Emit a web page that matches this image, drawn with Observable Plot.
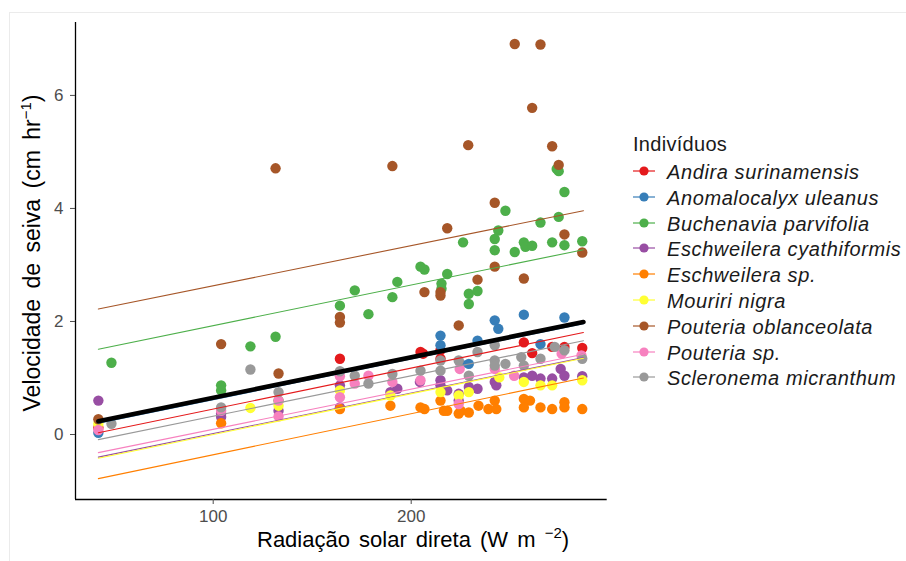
<!DOCTYPE html>
<html><head><meta charset="utf-8">
<script src="https://cdn.jsdelivr.net/npm/d3@7"></script>
<script src="https://cdn.jsdelivr.net/npm/@observablehq/plot@0.6"></script>
<style>
body{margin:0;background:#fff;font-family:"Liberation Sans",Arial,sans-serif;}
#wrap{position:relative;width:906px;height:561px;overflow:hidden;}
#frame{position:absolute;left:9px;top:12px;width:1000px;height:1000px;border:1px solid #ebebeb;}
#chart{position:absolute;left:0;top:0;}
.lg{position:absolute;white-space:nowrap;color:#1a1a1a;}
</style></head><body>
<div id="wrap"><div id="frame"></div><div id="chart"></div><div id="legend"></div></div>
<script>
const species = ["Andira surinamensis","Anomalocalyx uleanus","Buchenavia parvifolia","Eschweilera cyathiformis","Eschweilera sp.","Mouriri nigra","Pouteria oblanceolata","Pouteria sp.","Scleronema micranthum"];
const colors = ["#E41A1C","#377EB8","#4DAF4A","#984EA3","#FF7F00","#FFFF33","#A65628","#F781BF","#999999"];

const andira = [[42,0.12],[164,1.34],[204.7,1.46],[206,1.43],[214.8,1.49],[214.8,1.34],[256.9,1.63],[261.1,1.44],[271.2,1.55],[277.4,1.55],[286.4,1.53]];
const anomalocalyx = [[42,0.03],[214.8,1.75],[214.8,1.58],[225,1.25],[229.1,1.25],[233.5,1.66],[242.2,2.02],[244,1.87],[256.9,2.12],[265.3,1.60],[277.4,2.07]];
const buchenavia = [[48.6,1.27],[104,0.87],[104,0.78],[118.8,1.56],[131.5,1.73],[133,0.60],[164,2.28],[171.5,2.55],[178.4,2.13],[190.5,2.43],[193,2.70],[204.7,2.97],[206.7,2.92],[218.2,2.84],[215.3,2.67],[215.3,2.58],[226.2,3.40],[229.1,2.49],[229.1,2.31],[233.5,2.54],[242.2,3.46],[244,3.61],[242.2,3.26],[247.6,3.96],[252.3,3.23],[256.9,3.40],[257.7,3.32],[261.1,3.34],[265.3,3.75],[271.2,3.40],[274.5,3.85],[273.5,4.70],[274.5,4.66],[277.4,4.29],[277.4,3.35],[286.4,3.42]];
const eschCyath = [[42,0.60],[104,0.37],[104,0.31],[133,0.42],[164,0.87],[164,0.48],[189.5,0.75],[193,0.81],[204.4,0.93],[214.8,0.96],[214.8,0.87],[218.2,0.78],[224,0.72],[224,0.60],[229.1,0.84],[233.5,0.81],[242.2,0.93],[243,0.87],[256.9,1.01],[261.1,1.04],[265.3,0.99],[271.2,0.99],[275.5,1.16],[277.4,1.04],[286.4,1.03]];
const eschSp = [[104,0.20],[164,0.45],[189.5,0.51],[204.7,0.48],[206.7,0.45],[214.8,0.60],[216.5,0.42],[218.2,0.42],[225,0.42],[224,0.37],[229.1,0.39],[234,0.51],[239,0.45],[242.2,0.60],[243,0.45],[256.9,0.63],[260,0.60],[256.9,0.48],[265.3,0.48],[271.2,0.45],[277.4,0.57],[277.4,0.48],[286.4,0.45]];
const mouriri = [[42,0.19],[118.8,0.47],[133,0.51],[164,0.78],[189.5,0.69],[214.8,0.75],[224,0.69],[229.1,0.75],[244.5,1.01],[256.9,0.93],[265.3,0.87],[271.2,0.87],[286.4,0.96]];
const pouteriaObl = [[42,0.27],[104,1.60],[131.5,4.71],[133,1.08],[164,2.08],[164,1.98],[190.5,4.75],[206.7,2.52],[214.8,2.52],[214.8,2.46],[218.2,3.65],[224,1.93],[228.8,5.12],[233.5,2.74],[242.2,4.10],[242.2,2.97],[252.3,6.91],[256.9,2.76],[261.1,5.78],[265.3,6.90],[271.2,5.10],[274.5,4.77],[277.4,3.54],[286.4,3.22]];
const pouteriaSp = [[42,0.08],[104,0.42],[133,0.60],[133,0.32],[164,1.03],[164,0.66],[171.5,0.90],[178.4,1.04],[190.5,0.93],[204.7,0.96],[224.5,1.16],[224,0.54],[242.2,1.16],[252,1.04],[276,1.43],[286,1.40]];
const scleronema = [[48.6,0.19],[104,0.48],[118.8,1.15],[133,0.75],[164,1.12],[171.5,1.04],[178.4,0.90],[190.5,1.07],[204.7,1.13],[214.8,1.13],[214.8,1.31],[224,1.31],[229.1,1.04],[233.5,1.46],[242.2,1.31],[242.2,1.22],[242.2,1.58],[247.6,1.25],[255.6,1.37],[256.9,1.22],[265.3,1.34],[272.5,1.55],[277.4,1.49],[286.4,1.34]];

// fitted lines: value at x = 42 and at x = 287
const lineX = [42, 287];
const lineStart = [0.03, 0.20, 1.51, -0.40, -0.78, -0.42, 2.22, -0.32, -0.09];
const lineEnd   = [1.805, 1.96, 3.27, 1.36, 1.00, 1.35, 3.96, 1.42, 1.66];
const overallLine = [0.235, 1.99];

const yTicks = [0, 2, 4, 6];
const xTicks = [100, 200];

const groups = [andira, anomalocalyx, buchenavia, eschCyath, eschSp, mouriri, pouteriaObl, pouteriaSp, scleronema];
const points = groups.flatMap((g, i) => g.map(([x, y]) => ({species: species[i], x, y})));
const lines = species.flatMap((s, i) => [{species: s, x: lineX[0], y: lineStart[i]}, {species: s, x: lineX[1], y: lineEnd[i]}]);
const overall = lineX.map((x, i) => ({x, y: overallLine[i]}));

const xDom = [30.45, 299.0], yDom = [-1.15, 7.29];

const svg = Plot.plot({
  width: 906, height: 561,
  marginLeft: 75, marginRight: 299.3, marginTop: 22, marginBottom: 62,
  style: {fontFamily: "Liberation Sans, Arial, sans-serif", background: "transparent", overflow: "visible"},
  x: {domain: xDom, label: null},
  y: {domain: yDom, label: null},
  color: {domain: species, range: colors},
  marks: [
    Plot.dot(points, {x: "x", y: "y", fill: "species", r: 5.2}),
    Plot.line(lines, {x: "x", y: "y", z: "species", stroke: "species", strokeWidth: 1.1}),
    Plot.line(overall, {x: "x", y: "y", stroke: "black", strokeWidth: 4.6}),
    Plot.ruleX([xDom[0]], {stroke: "black", strokeWidth: 1.3}),
    Plot.ruleY([yDom[0]], {stroke: "black", strokeWidth: 1.3}),
    Plot.axisX({ticks: xTicks, tickSize: 5, tickPadding: 5, fontSize: 17, color: "#4d4d4d", label: null}),
    Plot.axisY({ticks: yTicks, tickSize: 5, tickPadding: 7, fontSize: 17, color: "#4d4d4d", label: null})
  ]
});
document.getElementById("chart").appendChild(svg);

const s = d3.select(svg);
const xt = s.append("text").attr("x", 257).attr("y", 547).attr("text-anchor", "start").attr("font-size", 22).attr("fill", "#000").attr("word-spacing", "3px");
xt.append("tspan").text("Radiação solar direta (W m ");
xt.append("tspan").attr("font-size", 15).attr("dy", -9).text("−2");
xt.append("tspan").attr("dy", 9).text(")");
const yt = s.append("text").attr("transform", "translate(40,253) rotate(-90)").attr("text-anchor", "middle").attr("font-size", 23).attr("fill", "#000").attr("word-spacing", "4px");
yt.append("tspan").text("Velocidade de seiva (cm hr");
yt.append("tspan").attr("font-size", 15).attr("dy", -9).text("−1");
yt.append("tspan").attr("dy", 9).text(")");

// legend
const lg = document.getElementById("legend");
const title = document.createElement("div");
title.className = "lg"; title.style.left = "633px"; title.style.top = "132px"; title.style.fontSize = "20px"; title.style.lineHeight = "24px"; title.style.letterSpacing = "0.3px";
title.textContent = "Indivíduos";
lg.appendChild(title);
species.forEach((sp, i) => {
  const cy = 171 + 25.8 * i;
  const key = document.createElementNS("http://www.w3.org/2000/svg", "svg");
  key.setAttribute("width", 24); key.setAttribute("height", 14);
  key.style.position = "absolute"; key.style.left = "632px"; key.style.top = (cy - 7) + "px";
  key.innerHTML = `<line x1="1" x2="23" y1="7" y2="7" stroke="${colors[i]}" stroke-width="1.2"/><circle cx="12" cy="7" r="4.6" fill="${colors[i]}"/>`;
  lg.appendChild(key);
  const t = document.createElement("div");
  t.className = "lg"; t.style.left = "667px"; t.style.top = (cy - 11) + "px"; t.style.fontSize = "20px"; t.style.lineHeight = "24px"; t.style.fontStyle = "italic"; t.style.letterSpacing = "0.6px";
  t.textContent = sp;
  lg.appendChild(t);
});
</script>
</body></html>
